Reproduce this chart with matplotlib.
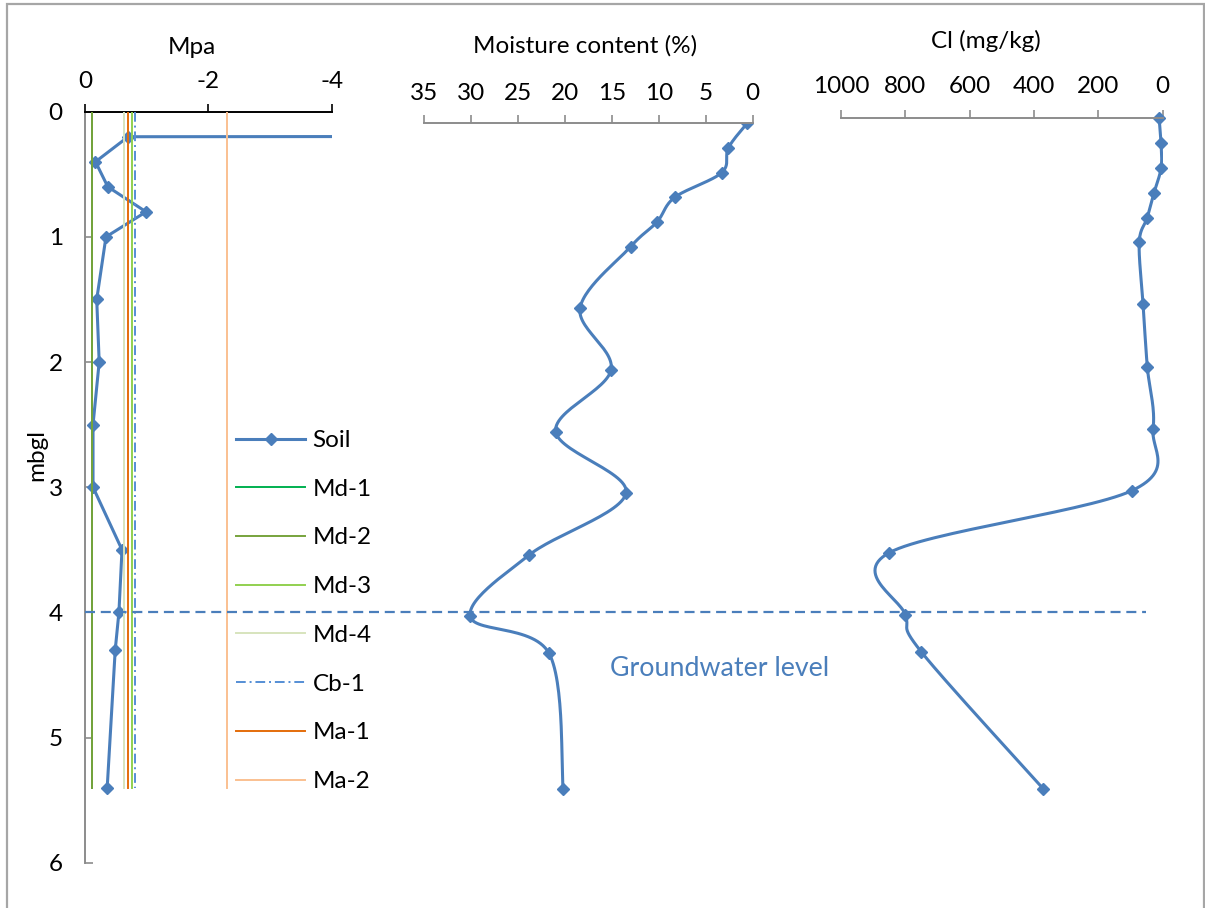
import numpy as np
import matplotlib
matplotlib.use("Agg")
import matplotlib.pyplot as plt
from matplotlib.patches import Rectangle

plt.rcParams["font.family"] = ["Lato", "DejaVu Sans"]

# ── Datos del perfil ────────────────────────────────────────
# potencial matricial del suelo (MPa) por profundidad (m bajo el terreno)
soil_depth = [0.0, 0.2, 0.4, 0.6, 0.8, 1.0, 1.5, 2.0, 2.5, 3.0, 3.5, 4.0, 4.3, 5.4]
soil_mpa = [-500, -0.70, -0.17, -0.37, -0.99, -0.34, -0.19, -0.23, -0.13,
            -0.13, -0.60, -0.55, -0.49, -0.36]

# potencial de las plantas (líneas verticales hasta 5.4 m)
plant_names = ["Md-1", "Md-2", "Md-3", "Md-4", "Cb-1", "Ma-1", "Ma-2"]
plant_mpa = [-0.12, -0.12, -0.77, -0.63, -0.81, -0.70, -2.30]
plant_depth = [0.0, 5.4]

# humedad y cloruros
lab_depth = [0.0, 0.2, 0.4, 0.6, 0.8, 1.0, 1.5, 2.0, 2.5, 3.0, 3.5, 4.0, 4.3, 5.4]
moisture = [0.6, 2.6, 3.3, 8.3, 10.2, 13.0, 18.4, 15.1, 21.0, 13.5, 23.8, 30.1, 21.7, 20.2]
chloride = [11, 5, 5, 27, 48, 73, 61, 48, 30, 96, 850, 800, 750, 372]

gw_depth = 4.0

AZUL = "#4A7EBB"
GRIS = "#8C8C8C"
plant_style = {
    "Md-1": dict(color="#00B050", ls="-"),
    "Md-2": dict(color="#77A33C", ls="-"),
    "Md-3": dict(color="#92D050", ls="-"),
    "Md-4": dict(color="#D7E4BD", ls="-"),
    "Cb-1": dict(color="#558ED5", ls=(0, (5, 2, 1, 2))),
    "Ma-1": dict(color="#E46C0A", ls="-"),
    "Ma-2": dict(color="#FAC090", ls="-"),
}

W, H = 1205, 908
FS = 17.5


def px_axes(x0, y0, x1, y1):
    """Crea unos ejes a partir de coordenadas en píxeles (origen arriba)."""
    return fig.add_axes([x0 / W, 1 - y1 / H, (x1 - x0) / W, (y1 - y0) / H])


def suavizar(x, y, n=30):
    """Curva suavizada tipo Excel (Bezier con tangentes Catmull-Rom)."""
    p = np.column_stack([x, y]).astype(float)
    ext = np.vstack([p[0], p, p[-1]])
    out = []
    for i in range(len(p) - 1):
        p0, p1, p2, p3 = ext[i], ext[i + 1], ext[i + 2], ext[i + 3]
        c1 = p1 + (p2 - p0) / 6
        c2 = p2 - (p3 - p1) / 6
        t = np.linspace(0, 1, n)[:, None]
        seg = ((1 - t) ** 3) * p1 + 3 * ((1 - t) ** 2) * t * c1 \
            + 3 * (1 - t) * t ** 2 * c2 + t ** 3 * p2
        out.append(seg if i == 0 else seg[1:])
    out = np.vstack(out)
    return out[:, 0], out[:, 1]


fig = plt.figure(figsize=(W / 100, H / 100), dpi=100)

# ── Panel 1: potencial (MPa) ────────────────────────────────
ax = px_axes(85, 111.7, 331.7, 862.7)
ax.plot(soil_mpa, soil_depth, color=AZUL, lw=2.2, marker="D", ms=6.5,
        mfc=AZUL, mec=AZUL, label="Soil", zorder=2)
for name, val in zip(plant_names, plant_mpa):
    st = plant_style[name]
    ax.plot([val, val], plant_depth, color=st["color"], ls=st["ls"],
            lw=1.4, label=name, zorder=3)
ax.plot([0, -17.2], [gw_depth, gw_depth], color=AZUL, lw=1.6,
        dashes=(4.5, 2.6), clip_on=False, zorder=4)

ax.set_xlim(0, -4)
ax.set_ylim(6, 0)
ax.xaxis.tick_top()
ax.xaxis.set_label_position("top")
ax.set_xticks([0, -2, -4])
ax.set_xticklabels(["0", "-2", "-4"])
ax.set_yticks(range(7))
ax.tick_params(axis="x", direction="out", length=6, width=1.2, pad=8,
               labelsize=FS, colors="black")
ax.tick_params(axis="y", direction="in", length=6, width=1.2, pad=16,
               labelsize=FS, color=GRIS)
for s in ["right", "bottom"]:
    ax.spines[s].set_visible(False)
ax.spines["top"].set_color("black")
ax.spines["top"].set_linewidth(1.4)
ax.spines["left"].set_color(GRIS)
ax.spines["left"].set_linewidth(1.4)
ax.set_xlabel("Mpa", fontsize=FS)
ax.xaxis.set_label_coords((192 - 85) / 246.7, 1 + (111.7 - 48) / 751)
ax.xaxis.label.set_va("center")
ax.set_ylabel("mbgl", fontsize=FS)
ax.yaxis.set_label_coords((37 - 85) / 246.7, 1 - (455 - 111.7) / 751)
ax.yaxis.label.set_va("center")
ax.patch.set_visible(False)

leg = ax.legend(loc="upper left", bbox_to_anchor=(236 / W, 1 - 430 / H),
                bbox_transform=fig.transFigure, frameon=False, fontsize=FS,
                handlelength=2.85, handletextpad=0.3, labelspacing=1.14,
                borderpad=0, borderaxespad=0)

# ── Panel 2: humedad ────────────────────────────────────────
ax_m = px_axes(424.3, 123.3, 752.7, 863)
xm, ym = suavizar(moisture, lab_depth)
ax_m.plot(xm, ym, color=AZUL, lw=2.2)
ax_m.plot(moisture, lab_depth, ls="none", marker="D", ms=6.5, mfc=AZUL, mec=AZUL)
ax_m.set_xlim(35, 0)
ax_m.set_ylim(6, 0)
ax_m.set_xticks(range(0, 40, 5))
ax_m.xaxis.tick_top()
ax_m.xaxis.set_label_position("top")
ax_m.set_yticks([])
ax_m.tick_params(axis="x", direction="out", length=6, width=1.2, pad=8,
                 labelsize=FS, color=GRIS)
for s in ["left", "right", "bottom"]:
    ax_m.spines[s].set_visible(False)
ax_m.spines["top"].set_color(GRIS)
ax_m.spines["top"].set_linewidth(1.4)
ax_m.set_xlabel("Moisture content (%)", fontsize=FS)
ax_m.xaxis.set_label_coords((585 - 424.3) / 328.4, 1 + (123.3 - 46) / 739.7)
ax_m.xaxis.label.set_va("center")
ax_m.patch.set_visible(False)

# ── Panel 3: cloruros ───────────────────────────────────────
ax_c = px_axes(841, 118.3, 1162.7, 863)
xc, yc = suavizar(chloride, lab_depth)
ax_c.plot(xc, yc, color=AZUL, lw=2.2)
ax_c.plot(chloride, lab_depth, ls="none", marker="D", ms=6.5, mfc=AZUL, mec=AZUL,
          clip_on=False)
ax_c.set_xlim(1000, 0)
ax_c.set_ylim(6, 0)
ax_c.set_xticks(range(0, 1200, 200))
ax_c.xaxis.tick_top()
ax_c.xaxis.set_label_position("top")
ax_c.set_yticks([])
ax_c.tick_params(axis="x", direction="out", length=6, width=1.2, pad=9,
                 labelsize=FS, color=GRIS)
for s in ["left", "right", "bottom"]:
    ax_c.spines[s].set_visible(False)
ax_c.spines["top"].set_color(GRIS)
ax_c.spines["top"].set_linewidth(1.4)
ax_c.set_xlabel("Cl (mg/kg)", fontsize=FS)
ax_c.xaxis.set_label_coords((986 - 841) / 321.7, 1 + (118.3 - 41) / 744.7)
ax_c.xaxis.label.set_va("center")
ax_c.patch.set_visible(False)

fig.text(720 / W, 1 - 668 / H, "Groundwater level", color=AZUL, fontsize=19.3,
         ha="center", va="center")

# marco exterior
fig.patches.append(Rectangle((7 / W, -0.01), (1204 - 7) / W, 1.01 - 4 / H,
                             transform=fig.transFigure, fill=False,
                             edgecolor="#A6A6A6", lw=1.6))

fig.savefig("out.png", dpi=100, facecolor="white")
